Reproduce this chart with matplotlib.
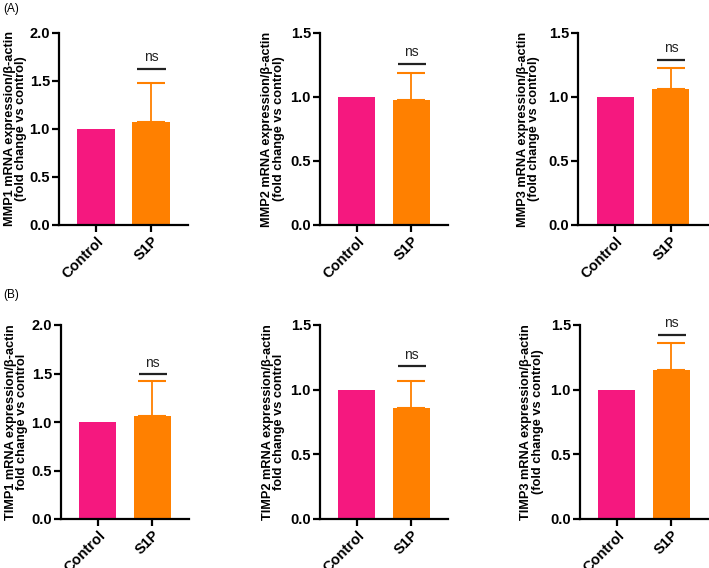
import matplotlib
matplotlib.use("Agg")
import matplotlib.pyplot as plt
from matplotlib.ticker import FormatStrFormatter

plt.rcParams['font.family'] = ['Liberation Sans', 'DejaVu Sans']

groups = ["Control", "S1P"]
genes = ["MMP1", "MMP2", "MMP3", "TIMP1", "TIMP2", "TIMP3"]
means = {
    "MMP1": [1.0, 1.07],
    "MMP2": [1.0, 0.98],
    "MMP3": [1.0, 1.06],
    "TIMP1": [1.0, 1.06],
    "TIMP2": [1.0, 0.856],
    "TIMP3": [1.0, 1.15],
}
errors = {
    "MMP1": [0.0, 0.41],
    "MMP2": [0.0, 0.21],
    "MMP3": [0.0, 0.17],
    "TIMP1": [0.0, 0.36],
    "TIMP2": [0.0, 0.214],
    "TIMP3": [0.0, 0.21],
}
ns_level = {"MMP1": 1.625, "MMP2": 1.256, "MMP3": 1.29,
            "TIMP1": 1.49, "TIMP2": 1.18, "TIMP3": 1.42}
ymax = {"MMP1": 2.0, "MMP2": 1.5, "MMP3": 1.5,
        "TIMP1": 2.0, "TIMP2": 1.5, "TIMP3": 1.5}
ylabels = {
    "MMP1": "MMP1 mRNA expression/β-actin\n(fold change vs control)",
    "MMP2": "MMP2 mRNA expression/β-actin\n(fold change vs control)",
    "MMP3": "MMP3 mRNA expression/β-actin\n(fold change vs control)",
    "TIMP1": "TIMP1 mRNA expression/β-actin\nfold change vs control",
    "TIMP2": "TIMP2 mRNA expression/β-actin\nfold change vs control",
    "TIMP3": "TIMP3 mRNA expression/β-actin\n(fold change vs control)",
}

colors = ["#F5187F", "#FF8000"]

W, H = 709, 568
fig = plt.figure(figsize=(W / 100, H / 100), dpi=100)

# axes pixel boxes: (left, right, top, bottom)
boxes = {
    "MMP1": (59, 188, 33, 225),
    "MMP2": (320, 448, 33, 225),
    "MMP3": (578, 708, 33, 225),
    "TIMP1": (61, 189, 325, 519),
    "TIMP2": (320, 448, 325, 519),
    "TIMP3": (580, 708, 325, 519),
}
label_x = {"MMP1": -0.245, "MMP2": -0.275, "MMP3": -0.29,
           "TIMP1": -0.255, "TIMP2": -0.27, "TIMP3": -0.285}

for g in genes:
    l, r, t, b = boxes[g]
    ax = fig.add_axes([l / W, 1 - b / H, (r - l) / W, (b - t) / H])
    x = [0, 1]
    ax.bar(x, means[g], width=0.685, color=colors, edgecolor='none', zorder=2)
    ax.errorbar([1], [means[g][1]], yerr=[[0], [errors[g][1]]], fmt='none',
                ecolor=colors[1], elinewidth=1.3, capsize=10, capthick=1.5, zorder=1)
    ax.plot([0.75, 1.27], [ns_level[g], ns_level[g]], color='#222222', lw=1.6,
            solid_capstyle='butt')
    ax.text(1.01, ns_level[g] + 0.025 * ymax[g], "ns", ha='center', va='bottom',
            fontsize=10, color='#222222')
    ax.set_xlim(-0.68, 1.68)
    ax.set_ylim(0, ymax[g])
    ax.set_yticks([i * 0.5 for i in range(int(ymax[g] / 0.5) + 1)])
    ax.yaxis.set_major_formatter(FormatStrFormatter('%.1f'))
    ax.set_xticks(x)
    ax.set_xticklabels(groups, rotation=45, ha='right', rotation_mode='anchor',
                       fontsize=10.5, fontweight='bold')
    for lab in ax.get_yticklabels():
        lab.set_fontweight('bold')
        lab.set_fontsize(10.5)
    ax.spines['top'].set_visible(False)
    ax.spines['right'].set_visible(False)
    ax.spines['left'].set_linewidth(1.6)
    ax.spines['bottom'].set_linewidth(1.6)
    ax.tick_params(axis='both', width=1.6, length=5, direction='out', pad=1.5)
    ax.set_ylabel(ylabels[g], fontsize=9.2, fontweight='bold', linespacing=0.95)
    ax.yaxis.set_label_coords(label_x[g], 0.5)
    ax.set_facecolor('none')

fig.text(3 / W, 1 - 9 / H, "(A)", fontsize=8.5, va='center', ha='left')
fig.text(3 / W, 1 - 295 / H, "(B)", fontsize=8.5, va='center', ha='left')

fig.savefig("out.png", dpi=100)
